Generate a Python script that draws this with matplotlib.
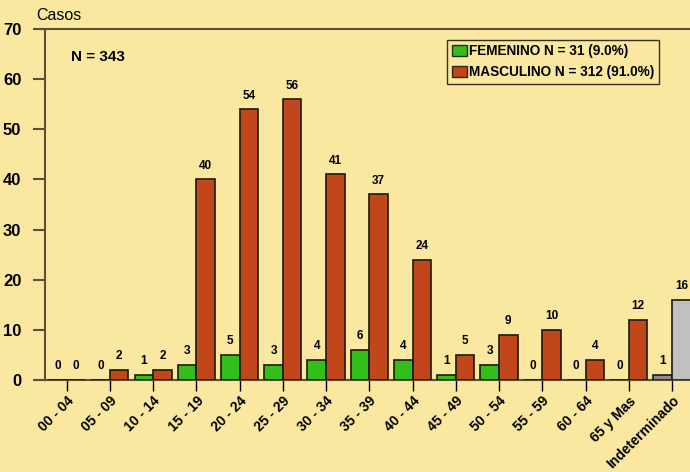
import numpy as np
import matplotlib.pyplot as plt
from matplotlib.patches import Patch

plt.rcParams['font.family'] = ['Liberation Sans', 'DejaVu Sans']

grupos = ['00 - 04', '05 - 09', '10 - 14', '15 - 19', '20 - 24', '25 - 29', '30 - 34',
          '35 - 39', '40 - 44', '45 - 49', '50 - 54', '55 - 59', '60 - 64', '65 y Mas',
          'Indeterminado']
femenino = [0, 0, 1, 3, 5, 3, 4, 6, 4, 1, 3, 0, 0, 0, 1]
masculino = [0, 2, 2, 40, 54, 56, 41, 37, 24, 5, 9, 10, 4, 12, 16]

fondo = '#fae8a0'
verde = '#33bf1a'
rojo = '#c1461a'
eje = '#5a5038'

fig = plt.figure(figsize=(6.9, 4.72), dpi=100, facecolor=fondo)
ax = fig.add_axes([45 / 690, 92 / 472, 648.6 / 690, 351 / 472], facecolor=fondo)

x = np.arange(len(grupos))
w = 0.43
col_f = [verde] * (len(grupos) - 1) + ['#8c8c8c']
col_m = [rojo] * (len(grupos) - 1) + ['#c0c0c0']
ax.bar(x - w / 2, femenino, w, color=col_f, edgecolor='#1a1a10', linewidth=1.2, zorder=3)
ax.bar(x + w / 2, masculino, w, color=col_m, edgecolor='#1a1a10', linewidth=1.2, zorder=3)

for xi, v in zip(x - w / 2, femenino):
    ax.text(xi, v + 1.5, str(v), ha='center', va='bottom', fontsize=8.5, fontweight='bold')
for xi, v in zip(x + w / 2, masculino):
    ax.text(xi, v + 1.5, str(v), ha='center', va='bottom', fontsize=8.5, fontweight='bold')

ax.set_xlim(-0.5, len(grupos) - 0.5)
ax.set_ylim(0, 70)
ax.set_yticks(range(0, 71, 10))
ax.set_xticks(x)
ax.set_xticklabels(grupos, rotation=45, ha='right', rotation_mode='anchor',
                   fontsize=10, fontweight='bold')
for lab in ax.get_yticklabels():
    lab.set_fontweight('bold')
    lab.set_fontsize(12)
ax.tick_params(axis='y', direction='out', length=9, width=1.5, color=eje, pad=8)
ax.tick_params(axis='x', direction='out', length=8, width=1.0, color='black', pad=2)

ax.spines['right'].set_visible(False)
for s in ['left', 'top', 'bottom']:
    ax.spines[s].set_color(eje)
    ax.spines[s].set_linewidth(1.5)

fig.text(36 / 690, 1 - 15 / 472, 'Casos', fontsize=11.5, ha='left', va='center')
ax.text(0.04, 0.92, 'N = 343', transform=ax.transAxes, fontsize=11, fontweight='bold',
        ha='left', va='center')

h = [Patch(facecolor=verde, edgecolor='#2a2a1a'), Patch(facecolor=rojo, edgecolor='#2a2a1a')]
leg = ax.legend(h, ['FEMENINO N = 31 (9.0%)', 'MASCULINO N = 312 (91.0%)'],
                loc='upper left', bbox_to_anchor=(402 / 648.6, 0.97),
                prop={'weight': 'bold', 'size': 9.8}, frameon=True, fancybox=False,
                handlelength=1.1, handleheight=0.8, handletextpad=0.2,
                borderpad=0.35, labelspacing=0.5, borderaxespad=0)
leg.get_frame().set_facecolor(fondo)
leg.get_frame().set_edgecolor('black')
leg.get_frame().set_linewidth(1.0)
leg.set_zorder(5)

fig.savefig('out.png', dpi=100, facecolor=fondo)
